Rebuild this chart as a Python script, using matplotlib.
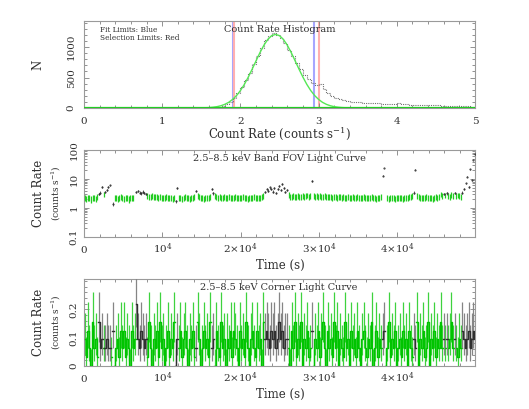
import numpy as np
import matplotlib
matplotlib.use('Agg')
import matplotlib.pyplot as plt
from matplotlib.ticker import MultipleLocator, FixedLocator, FixedFormatter, LogLocator, NullFormatter

plt.rcParams['font.family'] = ['DejaVu Serif', 'DejaVu Sans']
plt.rcParams['mathtext.fontset'] = 'dejavuserif'

# ---------------- data ----------------
# Count-rate histogram (bins of 0.05 counts/s starting at 1.70)
hist_start = 1.70
hist_width = 0.05
hist_counts = [15, 30, 60, 100, 170, 250, 350, 460, 580, 720,
               860, 990, 1110, 1190, 1230, 1200, 1150, 1070, 960, 850,
               740, 640, 550, 470, 410, 370, 390, 310, 240, 190,
               160, 140, 125, 115, 105, 98, 92, 88, 84, 80,
               78, 75, 72, 70, 68, 72, 74, 62, 58, 56,
               54, 52, 50, 48, 46, 44, 42, 40, 38, 36,
               34, 32, 30, 28, 26, 24]
# Gaussian fit curve, sampled every 0.05 from 1.40
gauss_start = 1.40
gauss_step = 0.05
gauss_vals = [0, 1, 2, 4, 7, 13, 22, 37, 60, 93,
              141, 204, 286, 387, 506, 637, 775, 910, 1031, 1127,
              1189, 1210, 1189, 1127, 1031, 910, 775, 637, 506, 387,
              286, 204, 141, 93, 60, 37, 22, 13, 7, 4,
              2, 1, 0]
fit_limits = [1.90, 2.94]
selection_limits = [1.92, 3.00]

# FOV light curve, 200 s bins (nan = gap)
fov_bin = 200.0
fov_point_exposure = 8.0
nan = float('nan')
fov_rate = [
    2.2, 2.1, 2.3, 2.2, 2.0, 2.3, 2.2, 2.1, 2.5, 3.1,
    3.4, 5.2, 3.0, 3.6, 4.3, 5.4, 6.0, nan, 1.4, 2.2,
    2.3, 2.1, 2.2, 2.4, 2.2, 2.1, 2.3, 2.2, 2.0, 2.2,
    2.3, 2.2, nan, 3.6, 3.9, 3.4, 3.2, 3.7, 3.3, 3.1,
    2.6, 2.5, 2.4, 2.6, 2.5, 2.4, 2.5, 2.3, 2.4, 2.3,
    2.3, 2.2, 2.4, 2.3, 2.2, 2.3, 2.1, 2.3, 1.7, 4.8,
    2.2, 2.3, 2.1, 2.2, 2.4, 2.2, 2.3, 2.1, 2.2, 2.3,
    2.4, 3.9, 2.6, 2.5, 2.2, 2.3, 2.1, 2.2, 2.3, 2.2,
    2.5, 4.5, 3.2, 2.6, 2.4, 2.3, 2.4, 2.2, 2.3, 2.4,
    2.3, 2.2, 2.4, 2.3, 2.2, 2.3, 2.4, 2.2, 2.3, 2.2,
    2.3, 2.4, 2.2, 2.3, 2.1, 2.2, 2.3, 2.2, 2.4, 2.3,
    2.2, 2.3, 2.2, 2.4, 2.6, 3.6, 4.6, 4.0, 5.1, 4.4,
    3.7, 4.9, 3.3, 4.5, 5.6, 4.2, 6.8, 5.0, 3.6, 4.1,
    2.9, 2.4, 2.5, 2.6, 2.4, 2.5, 2.6, 2.4, 2.5, 2.7,
    2.5, 2.6, 2.8, 2.5, 2.6, 8.6, 2.7, 2.5, 2.6, 2.5,
    2.6, 2.5, 2.4, 2.6, 2.5, 2.4, 2.5, 2.4, 2.3, 2.5,
    2.4, 2.3, 2.4, 2.5, 2.3, 2.4, 2.3, 2.2, 2.4, 2.3,
    2.3, 2.4, 2.2, 2.3, 2.4, 2.2, 2.3, 2.2, 2.4, 2.3,
    2.2, 2.3, 2.2, 2.4, 2.3, 2.2, 2.1, 2.3, 2.2, 2.4,
    13.0, 24.0, nan, 2.3, 2.1, 2.2, 2.3, 2.2, 2.1, 2.3,
    2.2, 2.3, 2.2, 2.1, 2.2, 2.3, 2.2, 2.4, 2.5, 2.7,
    3.4, 21.0, 2.6, 2.4, 2.3, 2.2, 2.3, 2.2, 2.4, 2.3,
    2.2, 2.3, 2.1, 2.2, 2.4, 2.3, 2.4, 3.0, 2.6, 3.1,
    2.8, 3.2, 2.7, 2.5, 2.9, 2.6, 3.3, 2.7, 2.8, 2.6,
    2.5, 3.4, 4.5, 7.0, 12.0, 5.5, 22.0, 9.0, 45.0, 70.0]

# Corner light curve: counts per 32 s frame, one sample per 200 s bin
corner_frame_time = 32.0
corner_counts = [
    3, 1, 4, 2, 0, 5, 2, 3, 1, 5,
    2, 3, 2, 2, 3, 2, 2, 1, 4, 0,
    2, 3, 1, 4, 2, 4, 1, 3, 2, 0,
    4, 2, 3, 7, 3, 2, 4, 3, 2, 3,
    1, 5, 2, 0, 3, 2, 4, 1, 5, 2,
    3, 0, 2, 4, 1, 3, 2, 5, 0, 3,
    2, 4, 1, 3, 4, 2, 0, 3, 2, 4,
    1, 2, 5, 3, 0, 2, 4, 2, 3, 1,
    5, 2, 3, 0, 4, 2, 1, 5, 2, 3,
    0, 3, 2, 4, 1, 4, 3, 2, 0, 4,
    2, 3, 1, 5, 2, 0, 3, 4, 2, 1,
    4, 2, 3, 0, 5, 3, 4, 3, 2, 4,
    3, 4, 2, 3, 5, 3, 4, 2, 3, 3,
    2, 0, 4, 2, 5, 1, 3, 2, 5, 0,
    3, 2, 4, 1, 2, 4, 0, 3, 2, 4,
    1, 3, 5, 2, 0, 4, 2, 3, 1, 5,
    2, 4, 0, 3, 2, 1, 5, 2, 3, 0,
    4, 2, 3, 1, 4, 2, 0, 3, 4, 2,
    1, 3, 2, 5, 0, 2, 4, 1, 3, 2,
    3, 4, 0, 2, 5, 1, 3, 2, 4, 0,
    2, 3, 1, 4, 2, 3, 0, 4, 2, 1,
    3, 2, 5, 0, 3, 2, 4, 1, 2, 5,
    0, 3, 2, 4, 1, 3, 2, 5, 2, 3,
    2, 3, 2, 3, 5, 2, 3, 2, 1, 3,
    2, 4, 3, 2, 3, 4, 2, 3, 4, 3]

time_ticks = [0, 1e4, 2e4, 3e4, 4e4]
time_tick_labels = ['0', r'$10^4$', r'$2{\times}10^4$', r'$3{\times}10^4$', r'$4{\times}10^4$']

# ---------------- styling ----------------
W, H = 529, 409
TXT = '#303030'
FRAME = '#9a9a9a'
fig = plt.figure(figsize=(W / 100, H / 100), dpi=100)


def fx(px):
    return px / W


def fy(py):
    return 1 - py / H


def make_ax(top, bottom):
    ax = fig.add_axes([fx(84), fy(bottom), fx(475) - fx(84), fy(top) - fy(bottom)])
    for s in ax.spines.values():
        s.set_color(FRAME)
        s.set_linewidth(0.8)
    ax.tick_params(which='both', direction='in', top=True, right=True,
                   color='#808080', labelcolor=TXT, labelsize=7.5, width=0.6)
    ax.tick_params(which='major', length=3.8)
    ax.tick_params(which='minor', length=1.9)
    ax.tick_params(axis='x', pad=11.5)
    ax.tick_params(axis='y', labelrotation=90, pad=4)
    return ax


def finish_xlabels(ax):
    for lab in ax.get_xticklabels():
        lab.set_va('baseline')
    for lab in ax.get_yticklabels():
        lab.set_va('center')


# ---------------- panel 1: histogram ----------------
ax1 = make_ax(21, 108)
edges = hist_start + np.arange(len(hist_counts) + 1) * hist_width
for x in fit_limits:
    ax1.axvline(x, color='#a6a6ff', lw=1.5, zorder=1)
for x in selection_limits:
    ax1.axvline(x, color='#ffb0b0', lw=1.5, zorder=1)
ax1.stairs(hist_counts, edges, color='#707070', lw=0.8, linestyle=(0, (1.0, 1.0)), zorder=3)
gx = np.concatenate([[0.0], gauss_start + np.arange(len(gauss_vals)) * gauss_step, [5.0]])
gy = np.concatenate([[0.0], gauss_vals, [0.0]])
ax1.plot(gx, gy, color='#55e855', lw=1.0, zorder=4)
ax1.plot([0, 5], [0, 0], color='#22cc22', lw=1.6, zorder=4)
ax1.set_xlim(0, 5)
ax1.set_ylim(0, 1430)
ax1.xaxis.set_major_locator(MultipleLocator(1))
ax1.xaxis.set_minor_locator(MultipleLocator(0.2))
ax1.yaxis.set_major_locator(MultipleLocator(500))
ax1.yaxis.set_minor_locator(MultipleLocator(100))
ax1.tick_params(axis='y', pad=6)
finish_xlabels(ax1)
fig.text(fx(100), fy(30), 'Fit Limits: Blue', fontsize=5.3, color=TXT, va='center', ha='left')
fig.text(fx(100), fy(38.5), 'Selection Limits: Red', fontsize=5.3, color=TXT, va='center', ha='left')
fig.text(fx(280), fy(30), 'Count Rate Histogram', fontsize=7, color=TXT, va='center', ha='center')
fig.text(fx(38), fy(64.5), 'N', fontsize=8.5, color=TXT, rotation=90, va='center', ha='center')
fig.text(fx(280), fy(134), r'Count Rate (counts s$^{-1}$)', fontsize=8.5, color=TXT,
         va='center', ha='center')

# ---------------- panel 2: FOV light curve ----------------
ax2 = make_ax(150, 237)
rate = np.array(fov_rate, dtype=float)
t = (np.arange(len(rate)) + 0.5) * fov_bin
err = np.sqrt(rate * fov_point_exposure) / fov_point_exposure
inside = (rate >= selection_limits[0]) & (rate <= selection_limits[1])
outside = (~inside) & np.isfinite(rate)
ax2.errorbar(t[inside], rate[inside], yerr=err[inside], fmt='none', ecolor='#22cc22',
             elinewidth=0.9, capsize=0, zorder=3)
ax2.errorbar(t[outside], rate[outside], yerr=err[outside] * 0.5, fmt='.', ms=1.0, color='#2a2a2a',
             ecolor='#555555', elinewidth=0.6, capsize=0, zorder=4)
ax2.set_yscale('log')
ax2.set_xlim(0, 49900)
ax2.set_ylim(0.1, 100)
ax2.xaxis.set_major_locator(FixedLocator(time_ticks))
ax2.xaxis.set_major_formatter(FixedFormatter(time_tick_labels))
ax2.xaxis.set_minor_locator(MultipleLocator(2000))
ax2.yaxis.set_major_locator(FixedLocator([0.1, 1, 10, 100]))
ax2.yaxis.set_major_formatter(FixedFormatter(['0.1', '1', '10', '100']))
ax2.yaxis.set_minor_locator(LogLocator(base=10, subs=np.arange(2, 10)))
ax2.yaxis.set_minor_formatter(NullFormatter())
finish_xlabels(ax2)
fig.text(fx(279), fy(159), '2.5\u20138.5 keV Band FOV Light Curve', fontsize=7, color=TXT,
         va='center', ha='center')
fig.text(fx(38), fy(193.5), 'Count Rate', fontsize=8.5, color=TXT, rotation=90, va='center', ha='center')
fig.text(fx(56), fy(193.5), r'(counts s$^{-1}$)', fontsize=6.5, color=TXT, rotation=90,
         va='center', ha='center')
fig.text(fx(280), fy(265), 'Time (s)', fontsize=8.5, color=TXT, va='center', ha='center')

# ---------------- panel 3: corner light curve ----------------
ax3 = make_ax(279, 366)
cnt = np.array(corner_counts, dtype=float)
tc = (np.arange(len(cnt)) + 0.5) * fov_bin
crate = cnt / corner_frame_time
lo = np.sqrt(cnt) / corner_frame_time
hi = (1 + np.sqrt(cnt + 0.75)) / corner_frame_time
black = outside
green = ~black
ax3.vlines(tc[green], (crate - lo)[green], (crate + hi)[green], colors='#3ed23e', lw=0.9, zorder=2)
ax3.step(tc, np.where(green, crate, np.nan), where='mid', color='#00c400', lw=1.0, zorder=3)
ax3.vlines(tc[black], (crate - lo)[black], (crate + hi)[black], colors='#858585', lw=0.9, zorder=4)
ax3.step(tc, np.where(black, crate, np.nan), where='mid', color='#303030', lw=1.0, zorder=5)
ax3.set_xlim(0, 49900)
ax3.set_ylim(0, 0.307)
ax3.xaxis.set_major_locator(FixedLocator(time_ticks))
ax3.xaxis.set_major_formatter(FixedFormatter(time_tick_labels))
ax3.xaxis.set_minor_locator(MultipleLocator(2000))
ax3.yaxis.set_major_locator(FixedLocator([0, 0.1, 0.2]))
ax3.yaxis.set_major_formatter(FixedFormatter(['0', '0.1', '0.2']))
ax3.yaxis.set_minor_locator(MultipleLocator(0.02))
finish_xlabels(ax3)
fig.text(fx(279), fy(288), '2.5\u20138.5 keV Corner Light Curve', fontsize=7, color=TXT,
         va='center', ha='center')
fig.text(fx(38), fy(322.5), 'Count Rate', fontsize=8.5, color=TXT, rotation=90, va='center', ha='center')
fig.text(fx(56), fy(322.5), r'(counts s$^{-1}$)', fontsize=6.5, color=TXT, rotation=90,
         va='center', ha='center')
fig.text(fx(280), fy(394), 'Time (s)', fontsize=8.5, color=TXT, va='center', ha='center')

fig.savefig('out.png', dpi=100)
